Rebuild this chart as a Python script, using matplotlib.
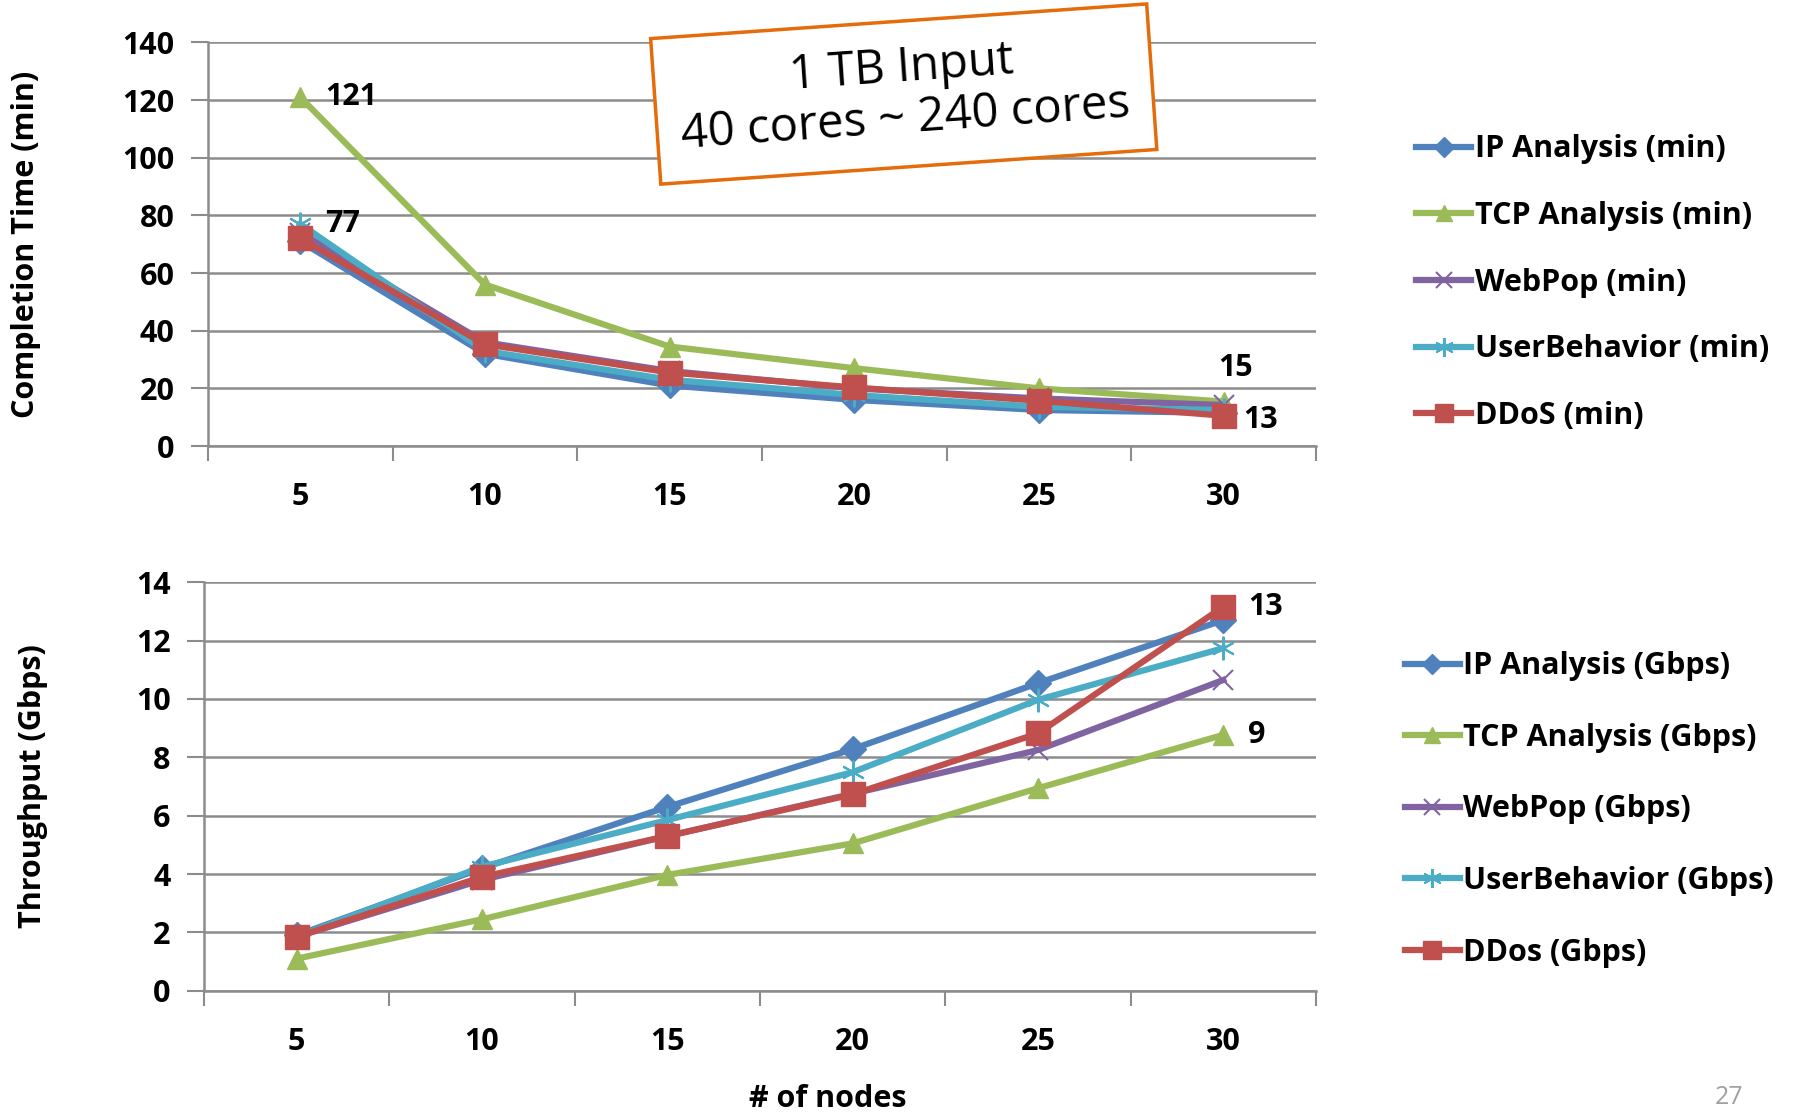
import matplotlib.pyplot as plt

plt.rcParams['font.family'] = ['Open Sans', 'DejaVu Sans']

# дані: кількість вузлів
nodes = [5, 10, 15, 20, 25, 30]

# час виконання (хв)
ip_min = [71, 32, 21, 16, 12.5, 11.5]
tcp_min = [121, 56, 34.5, 27, 20, 15.4]
webpop_min = [74, 36, 26, 20, 16.5, 14.2]
user_min = [77, 33, 23, 17.7, 13.6, 12.5]
ddos_min = [72, 35.3, 25.5, 20.3, 15.7, 10.5]

# пропускна здатність (Gbps)
ip_gbps = [1.9, 4.2, 6.3, 8.28, 10.54, 12.7]
tcp_gbps = [1.1, 2.45, 3.97, 5.05, 6.94, 8.77]
webpop_gbps = [1.85, 3.8, 5.3, 6.75, 8.25, 10.65]
user_gbps = [1.85, 4.25, 5.85, 7.49, 9.97, 11.74]
ddos_gbps = [1.85, 3.9, 5.3, 6.73, 8.82, 13.16]

names_min = ['IP Analysis (min)', 'TCP Analysis (min)', 'WebPop (min)', 'UserBehavior (min)', 'DDoS (min)']
names_gbps = ['IP Analysis (Gbps)', 'TCP Analysis (Gbps)', 'WebPop (Gbps)', 'UserBehavior (Gbps)', 'DDos (Gbps)']

colors = ['#4F81BD', '#9BBB59', '#8064A2', '#4BACC6', '#C0504D']
markers = ['D', '^', 'x', (6, 2, 0), 's']
msizes = [13, 15, 15, 17, 17]
mews = [1, 1, 1.5, 1.5, 1]

grid_c = '#8C8C8C'
fs = 22

fig = plt.figure(figsize=(17.94, 11.12), dpi=100)
ax1 = fig.add_axes([0.1159, 0.5989, 0.6176, 0.3630])
ax2 = fig.add_axes([0.1137, 0.1090, 0.6198, 0.3674])


def style_axis(ax, ymax, ystep):
    ax.set_xlim(2.5, 32.5)
    ax.set_ylim(0, ymax)
    ax.set_yticks(range(0, ymax + 1, ystep))
    ax.set_xticks(nodes)
    ax.set_xticks([2.5 + 5 * i for i in range(7)], minor=True)
    ax.tick_params(axis='x', which='major', length=0, pad=26, labelsize=fs)
    ax.tick_params(axis='x', which='minor', length=11, width=1.5, color=grid_c, direction='out')
    ax.tick_params(axis='y', length=12, width=1.5, color=grid_c, pad=12, labelsize=fs)
    for lab in ax.get_xticklabels() + ax.get_yticklabels():
        lab.set_fontweight('bold')
    ax.grid(axis='y', color=grid_c, linewidth=1.8)
    ax.set_axisbelow(True)
    for s in ['top', 'right']:
        ax.spines[s].set_visible(False)
    for s in ['left', 'bottom']:
        ax.spines[s].set_color(grid_c)
        ax.spines[s].set_linewidth(1.8)


# верхній графік - час виконання
for vals, name, c, m, ms, mw in zip([ip_min, tcp_min, webpop_min, user_min, ddos_min], names_min, colors, markers, msizes, mews):
    ax1.plot(nodes, vals, color=c, linewidth=4.5, marker=m, markersize=ms,
             markeredgewidth=mw, markeredgecolor=c, label=name)
style_axis(ax1, 140, 20)
ax1.set_ylabel('Completion Time (min)', fontsize=fs, fontweight='bold')
ax1.yaxis.set_label_coords(-0.151, 0.5)

ax1.annotate('121', (5, tcp_min[0]), xytext=(18, 0), textcoords='offset points',
             fontsize=fs, fontweight='bold', va='center', ha='left')
ax1.annotate('77', (5, user_min[0]), xytext=(18, 0), textcoords='offset points',
             fontsize=fs, fontweight='bold', va='center', ha='left')
ax1.annotate('15', (30, tcp_min[5]), xytext=(-4, 24), textcoords='offset points',
             fontsize=fs, fontweight='bold', va='center', ha='left')
ax1.annotate('13', (30, ddos_min[5]), xytext=(14, -3), textcoords='offset points',
             fontsize=fs, fontweight='bold', va='center', ha='left')

ax1.text(0.628, 0.872, '1 TB Input\n40 cores ~ 240 cores', transform=ax1.transAxes,
         fontsize=34, ha='center', va='center', rotation=4, rotation_mode='anchor',
         linespacing=1.1,
         bbox=dict(boxstyle='square,pad=0.5', facecolor='white', edgecolor='#E46C0A', linewidth=2.5))

ax1.legend(loc='center left', bbox_to_anchor=(1.077, 0.405), frameon=False,
           handlelength=1.8, handletextpad=0.1, labelspacing=1.2, borderpad=0,
           markerscale=0.8, prop={'weight': 'bold', 'size': fs})

# нижній графік - пропускна здатність
for vals, name, c, m, ms, mw in zip([ip_gbps, tcp_gbps, webpop_gbps, user_gbps, ddos_gbps], names_gbps, colors, markers, msizes, mews):
    ax2.plot(nodes, vals, color=c, linewidth=4.5, marker=m, markersize=ms,
             markeredgewidth=mw, markeredgecolor=c, label=name)
style_axis(ax2, 14, 2)
ax2.set_ylabel('Throughput (Gbps)', fontsize=fs, fontweight='bold')
ax2.yaxis.set_label_coords(-0.140, 0.5)
ax2.set_xlabel('# of nodes', fontsize=fs, fontweight='bold')
ax2.xaxis.set_label_coords(0.561, -0.227)

ax2.annotate('13', (30, ddos_gbps[5]), xytext=(18, 0), textcoords='offset points',
             fontsize=fs, fontweight='bold', va='center', ha='left')
ax2.annotate('9', (30, tcp_gbps[5]), xytext=(18, 0), textcoords='offset points',
             fontsize=fs, fontweight='bold', va='center', ha='left')

ax2.legend(loc='center left', bbox_to_anchor=(1.066, 0.444), frameon=False,
           handlelength=1.8, handletextpad=0.1, labelspacing=1.36, borderpad=0,
           markerscale=0.8, prop={'weight': 'bold', 'size': fs})

fig.text(0.964, 0.0126, '27', fontsize=18, color='#A0A0A0', ha='center', va='center')

fig.savefig('out.png', dpi=100)
